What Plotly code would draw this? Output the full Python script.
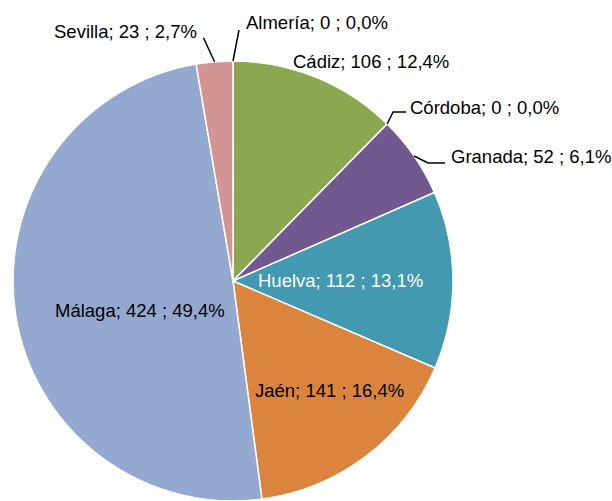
import math
import plotly.graph_objects as go

# ---- data ----
provincias = ["Almería", "Cádiz", "Córdoba", "Granada", "Huelva", "Jaén", "Málaga", "Sevilla"]
valores = [0, 106, 0, 52, 112, 141, 424, 23]

# ---- styling ----
colores = ["#4F81BD", "#8BA74F", "#C0504D", "#71588F", "#4299B0", "#DB843D", "#94A9CF", "#D39494"]
W, H = 612, 501
CX, CY, R = 233, 281, 220  # pie centre / radius in pixels

label_style = {
    "Almería": dict(off=(11, -39), anchor="left", leader=[(0, 0), (6, -31)], color="#000"),
    "Cádiz":   dict(off=(55, -16), anchor="center", leader=None, color="#000"),
    "Córdoba": dict(off=(21, -17), anchor="left", leader=[(0, 0), (6, -12), (19, -12)], color="#000"),
    "Granada": dict(off=(35, 0), anchor="left", leader=[(0, 0), (14, 7), (31, 7)], color="#000"),
    "Huelva":  dict(off=(-112, 0), anchor="center", leader=None, color="#FFFFFF"),
    "Jaén":    dict(off=(-36, -66), anchor="center", leader=None, color="#000"),
    "Málaga":  dict(off=(125, -3), anchor="center", leader=None, color="#000"),
    "Sevilla": dict(off=(-15, -30), anchor="right", leader=[(0, 0), (-11, -24)], color="#000"),
}

def px(x, y):
    return x / W, 1 - y / H

total = sum(valores)

fig = go.Figure(go.Pie(
    labels=provincias,
    values=valores,
    sort=False,
    direction="clockwise",
    rotation=0,
    textinfo="none",
    hoverinfo="label+value+percent",
    marker=dict(colors=colores, line=dict(color="#FFFFFF", width=1.5)),
    domain=dict(x=[(CX - R) / W, (CX + R) / W], y=[(H - CY - R) / H, (H - CY + R) / H]),
    showlegend=False,
))

annotations = []
shapes = []
cum = 0
for name, v in zip(provincias, valores):
    mid = (cum + v / 2) / total * 2 * math.pi
    cum += v
    ex = CX + R * math.sin(mid)
    ey = CY - R * math.cos(mid)
    st = label_style[name]
    pct = f"{v / total * 100:.1f}".replace(".", ",")
    text = f"{name}; {v} ; {pct}%"
    lx, ly = ex + st["off"][0], ey + st["off"][1]
    x, y = px(lx, ly)
    annotations.append(dict(
        x=x, y=y, xref="paper", yref="paper", text=text, showarrow=False,
        xanchor=st["anchor"], yanchor="middle",
        font=dict(family="Liberation Sans, Arial, sans-serif", size=18.5, color=st["color"]),
    ))
    if st["leader"]:
        pts = [px(ex + dx, ey + dy) for dx, dy in st["leader"]]
        path = "M " + " L ".join(f"{a},{b}" for a, b in pts)
        shapes.append(dict(type="path", path=path, xref="paper", yref="paper",
                           line=dict(color="#000000", width=1.5)))

fig.update_layout(
    width=W, height=H,
    margin=dict(l=0, r=0, t=0, b=0),
    paper_bgcolor="#FFFFFF",
    plot_bgcolor="#FFFFFF",
    annotations=annotations,
    shapes=shapes,
)

page_css = (
    "document.body.style.margin='0';"
    "document.body.style.overflow='hidden';"
    "document.documentElement.style.overflow='hidden';"
)
fig.write_html("out.html", post_script=page_css, config={"displayModeBar": False})
